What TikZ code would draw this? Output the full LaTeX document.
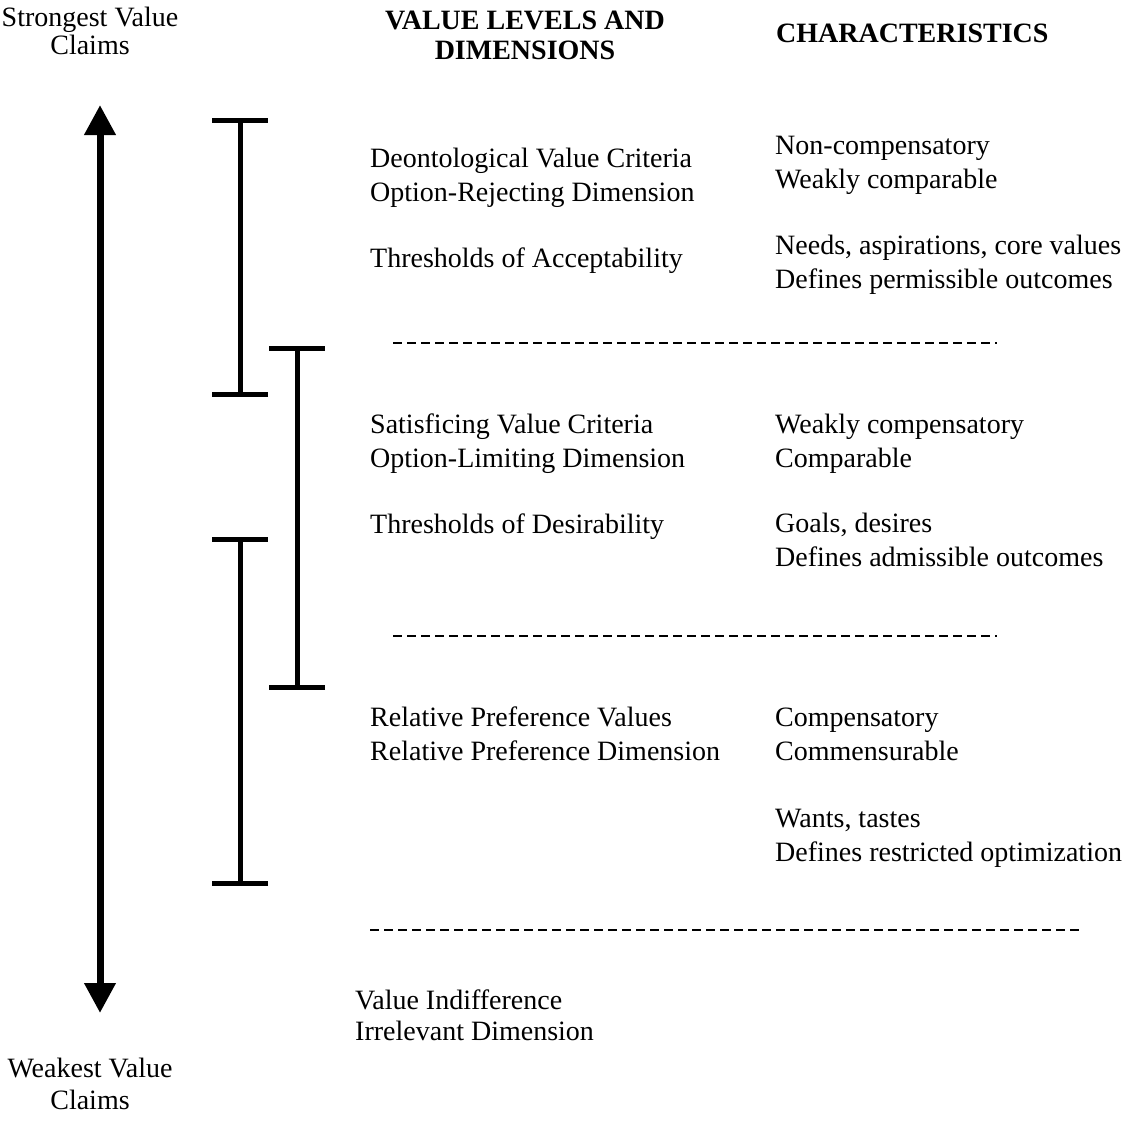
\documentclass[tikz,border=0pt]{standalone}
\usepackage{fontspec}
\setmainfont{Liberation Serif}
\usetikzlibrary{arrows.meta}

\tikzset{
  txt/.style={anchor=base west, inner sep=0pt, align=left,
    font=\fontsize{28}{33.5}\selectfont},
  head/.style={inner sep=0pt, font=\fontsize{28}{30}\selectfont\bfseries},
  axis/.style={line width=7pt, {Triangle[width=30pt,length=30pt]}-{Triangle[width=30pt,length=30pt]}},
  span/.style={line width=5pt, {Bar[width=56pt,line width=5pt]}-{Bar[width=56pt,line width=5pt]}},
  sep/.style={line width=1.6pt, dash pattern=on 9pt off 5pt}
}

\begin{document}
\begin{tikzpicture}[x=1pt, y=-1pt]
  \useasboundingbox (0,0) rectangle (1126,1143);
  % ---- vertical scale ----
  \node[anchor=base, inner sep=0pt, align=center, font=\fontsize{28}{28}\selectfont]
    (strong) at (90,54) {Strongest Value\\Claims};
  \node[anchor=base, inner sep=0pt, align=center, font=\fontsize{28}{32}\selectfont]
    (weak) at (90,1109) {Weakest Value\\Claims};
  \coordinate (axtop) at (100,105);
  \coordinate (axbot) at (100,1013);
  \draw[axis] (axtop) -- (axbot);
  % ---- overlapping ranges ----
  \foreach \nm/\x/\ya/\yb in {acc/240/118/397, des/297/346/690, pref/240/537/886} {
    \coordinate (\nm-top) at (\x,\ya);
    \coordinate (\nm-bot) at (\x,\yb);
    \draw[span] (\nm-top) -- (\nm-bot);
  }
  % ---- headings ----
  \node[head, anchor=base, align=center] (hlev) at (525,59) {VALUE LEVELS AND\\DIMENSIONS};
  \node[head, anchor=base west] (hchar) at (776,42) {CHARACTERISTICS};
  % ---- deontological level ----
  \node[txt] (deon) at (370,201) {Deontological Value Criteria\\Option-Rejecting Dimension};
  \node[txt] (accept) at (370,267) {Thresholds of Acceptability};
  \node[txt] (deonc) at (775,188) {Non-compensatory\\Weakly comparable};
  \node[txt] (acceptc) at (775,288) {Needs, aspirations, core values\\Defines permissible outcomes};
  \coordinate (s1a) at (393,343);
  \coordinate (s1b) at (997,343);
  \draw[sep] (s1a) -- (s1b);
  % ---- satisficing level ----
  \node[txt] (sat) at (370,467) {Satisficing Value Criteria\\Option-Limiting Dimension};
  \node[txt] (desire) at (370,533) {Thresholds of Desirability};
  \node[txt] (satc) at (775,467) {Weakly compensatory\\Comparable};
  \node[txt] (desirec) at (775,566) {Goals, desires\\Defines admissible outcomes};
  \coordinate (s2a) at (393,636);
  \coordinate (s2b) at (997,636);
  \draw[sep] (s2a) -- (s2b);
  % ---- relative preference level ----
  \node[txt] (rel) at (370,760) {Relative Preference Values\\Relative Preference Dimension};
  \node[txt] (relc) at (775,760) {Compensatory\\Commensurable};
  \node[txt] (want) at (775,861) {Wants, tastes\\Defines restricted optimization};
  \coordinate (s3a) at (370,930);
  \coordinate (s3b) at (1080,930);
  \draw[sep] (s3a) -- (s3b);
  % ---- indifference ----
  \node[txt, font=\fontsize{28}{31}\selectfont] (indiff) at (355,1040) {Value Indifference\\Irrelevant Dimension};
\end{tikzpicture}
\end{document}
